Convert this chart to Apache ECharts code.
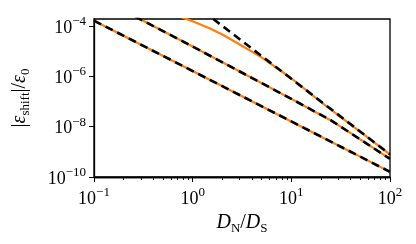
<!DOCTYPE html>
<html><head><meta charset="utf-8">
<script src="https://cdn.jsdelivr.net/npm/echarts@6/dist/echarts.min.js"></script>
<style>html,body{margin:0;padding:0;background:#fff}#c{width:416px;height:244px}</style>
</head><body><div id="c"></div>
<script>
// ---- data (real values, plotted on log-log axes) ----
const xMajorTicks = [0.1, 1, 10, 100];
const xMinorTicks = [0.2,0.3,0.4,0.5,0.6,0.7,0.8,0.9, 2,3,4,5,6,7,8,9, 20,30,40,50,60,70,80,90];
const yMajorTicks = [1e-10, 1e-8, 1e-6, 1e-4];
const xMin = 0.1, xMax = 100, yMin = 1e-10, yMax = 1.86e-4;

const lowX = [0.1, 1, 10, 100];
const lowY = [1.6e-4, 1.6e-6, 1.6e-8, 1.6e-10];

const midX = [0.2, 1, 10, 25, 50, 100];
const midY = [4.0e-4, 1.5e-5, 1.26e-7, 1.8e-8, 3.1e-9, 5.2e-10];

const topX = [0.5, 0.8, 1, 1.5, 2, 3, 5, 10, 20, 50, 100];
const topY = [3.7e-4, 2.1e-4, 1.5e-4, 7.8e-5, 4.5e-5, 1.8e-5, 5.6e-6, 8.3e-7, 9.3e-8, 6.2e-9, 7.9e-10];

const topAsymX = [1, 100];
const topAsymY = [7.9e-4, 7.9e-10];

// ---- build ----
const L = Math.log10;
const pts = (xs, ys) => xs.map((x, i) => [L(x), L(ys[i])]);
const ORANGE = '#ff7f0e';
const FONT = 'Liberation Serif';
const supRich = {
  b: {fontFamily: FONT, fontSize: 18, lineHeight: 22, verticalAlign: 'bottom', color: '#000'},
  s: {fontFamily: FONT, fontSize: 13, lineHeight: 10, verticalAlign: 'top', color: '#000'}
};
const fmtPow = v => { const n = Math.round(v); return '{b|10}{s|' + (n < 0 ? '\u2212' + (-n) : n) + '}'; };

const solid = (d) => ({type: 'line', data: d, xAxisIndex: 0, showSymbol: false, symbol: 'none', animation: false,
  lineStyle: {color: ORANGE, width: 2.2}, z: 2});
const dashed = (d) => ({type: 'line', data: d, xAxisIndex: 0, showSymbol: false, symbol: 'none', animation: false,
  lineStyle: {color: '#000', width: 2.6, type: [8, 5]}, z: 3});

const chart = echarts.init(document.getElementById('c'), null, {renderer: 'canvas'});
chart.setOption({
  animation: false,
  grid: {left: 94, right: 26, top: 19, bottom: 67, show: true, borderColor: '#000', borderWidth: 1.3, backgroundColor: 'transparent'},
  xAxis: [{
    type: 'value', min: L(xMin), max: L(xMax), position: 'bottom',
    axisLine: {show: true, onZero: false, lineStyle: {color: '#000', width: 1.3}},
    axisTick: {show: true, inside: false, length: 5, lineStyle: {color: '#000', width: 1}, customValues: xMajorTicks.map(L)},
    axisLabel: {show: true, margin: 9, formatter: fmtPow, rich: supRich, customValues: xMajorTicks.map(L)},
    splitLine: {show: false},
    name: '{i|D}{s|N}{n|/}{i|D}{s|S}', nameLocation: 'middle', nameGap: 36,
    nameTextStyle: {rich: {
      i: {fontFamily: FONT, fontStyle: 'italic', fontSize: 20, lineHeight: 22, verticalAlign: 'top', color: '#000'},
      n: {fontFamily: FONT, fontSize: 20, lineHeight: 22, verticalAlign: 'top', color: '#000'},
      s: {fontFamily: FONT, fontSize: 13, lineHeight: 11, verticalAlign: 'bottom', color: '#000'}
    }}
  }, {
    type: 'value', min: L(xMin), max: L(xMax), position: 'bottom',
    axisLine: {show: true, onZero: false, lineStyle: {color: '#000', width: 1.3}},
    axisTick: {show: true, inside: false, length: 3, lineStyle: {color: '#000', width: 0.9}, customValues: xMinorTicks.map(L)},
    axisLabel: {show: false}, splitLine: {show: false}
  }],
  yAxis: {
    type: 'value', min: L(yMin), max: L(yMax),
    axisLine: {show: true, onZero: false, lineStyle: {color: '#000', width: 1.3}},
    axisTick: {show: true, inside: false, length: 5, lineStyle: {color: '#000', width: 1}, customValues: yMajorTicks.map(L)},
    axisLabel: {show: true, margin: 8, formatter: fmtPow, rich: supRich, customValues: yMajorTicks.map(L)},
    splitLine: {show: false},
    name: '{n||}{g|\u03b5}{s|shift}{n||}{n|/}{g|\u03b5}{s|0}', nameLocation: 'middle', nameRotate: 90, nameGap: 62,
    nameTextStyle: {rich: {
      n: {fontFamily: FONT, fontSize: 20, lineHeight: 22, verticalAlign: 'top', color: '#000'},
      g: {fontFamily: FONT, fontStyle: 'italic', fontSize: 20, lineHeight: 22, verticalAlign: 'top', color: '#000'},
      s: {fontFamily: FONT, fontSize: 13, lineHeight: 11, verticalAlign: 'bottom', color: '#000'}
    }}
  },
  series: [
    solid(pts(lowX, lowY)),
    solid(pts(midX, midY)),
    solid(pts(topX, topY)),
    dashed(pts(lowX, lowY)),
    dashed(pts(midX, midY)),
    dashed(pts(topAsymX, topAsymY))
  ]
});
</script></body></html>
